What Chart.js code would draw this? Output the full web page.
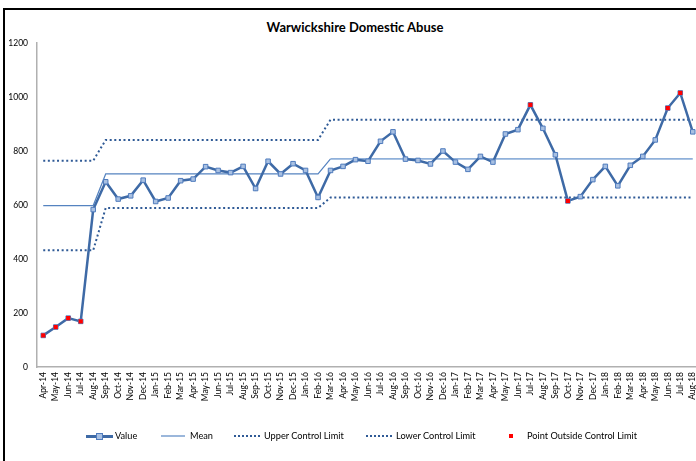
<!DOCTYPE html>
<html>
<head>
<meta charset="utf-8">
<script src="https://cdn.jsdelivr.net/npm/chart.js@4"></script>
<style>
  html, body { margin: 0; padding: 0; background: #fff; overflow: hidden; }
  body { width: 696px; height: 461px; position: relative; font-family: Lato, "Open Sans", sans-serif; }
  #frameTop { position: absolute; left: 3px; top: 8px; width: 693px; height: 2px; background: #000; }
  #frameLeft { position: absolute; left: 3px; top: 8px; width: 2px; height: 453px; background: #000; }
  #title { position: absolute; left: 255px; width: 200px; top: 19px; text-align: center; font-weight: bold; font-size: 13px; color: #000; }
  #wrap { position: absolute; left: 0; top: 0; width: 704px; height: 461px; }
  #legend { position: absolute; top: 430px; left: 0; width: 696px; height: 14px; font-size: 9.2px; color: #000; white-space: nowrap; }
  #legend span { position: absolute; top: 0; line-height: 12px; }
  #legend i { position: absolute; display: block; }
</style>
</head>
<body>
<div id="frameTop"></div>
<div id="frameLeft"></div>
<div id="title">Warwickshire Domestic Abuse</div>
<div id="wrap"><canvas id="chart"></canvas></div>
<div id="legend">
  <i style="left:86px;top:5px;width:27px;height:3px;background:#3e6aa6"></i>
  <i style="left:96px;top:3px;width:5px;height:5px;background:#a8c0e2;border:1px solid #4f7bbd"></i>
  <span style="left:115px">Value</span>
  <i style="left:161px;top:5px;width:24px;height:2px;background:#9bb7db"></i>
  <span style="left:190px">Mean</span>
  <i style="left:234px;top:5px;width:26px;border-top:2px dotted #2f5a96"></i>
  <span style="left:264px">Upper Control Limit</span>
  <i style="left:366px;top:5px;width:26px;border-top:2px dotted #2f5a96"></i>
  <span style="left:396px">Lower Control Limit</span>
  <i style="left:509px;top:4px;width:4px;height:4px;background:#ff0000"></i>
  <span style="left:527px">Point Outside Control Limit</span>
</div>
<script>
// --- Data ---
const months = [
  'Apr-14','May-14','Jun-14','Jul-14','Aug-14','Sep-14','Oct-14','Nov-14','Dec-14','Jan-15','Feb-15','Mar-15',
  'Apr-15','May-15','Jun-15','Jul-15','Aug-15','Sep-15','Oct-15','Nov-15','Dec-15','Jan-16','Feb-16','Mar-16',
  'Apr-16','May-16','Jun-16','Jul-16','Aug-16','Sep-16','Oct-16','Nov-16','Dec-16','Jan-17','Feb-17','Mar-17',
  'Apr-17','May-17','Jun-17','Jul-17','Aug-17','Sep-17','Oct-17','Nov-17','Dec-17','Jan-18','Feb-18','Mar-18',
  'Apr-18','May-18','Jun-18','Jul-18','Aug-18'
];

const values = [
  117, 148, 181, 169, 583, 686, 622, 634, 692, 613, 626, 690,
  696, 742, 728, 720, 743, 661, 762, 715, 753, 728, 628, 728,
  743, 768, 762, 836, 871, 770, 765, 752, 800, 759, 732, 780,
  759, 863, 879, 971, 884, 786, 615, 631, 694, 743, 671, 747,
  780, 841, 959, 1015, 871
];

// control limits per period (Apr-14..Aug-14, Sep-14..Feb-16, Mar-16..Aug-18)
const periodLengths = [5, 18, 30];
const periodMean = [598, 715, 771];
const periodUpper = [764, 841, 916];
const periodLower = [432, 589, 628];

// points flagged outside the control limits
const outsideMonths = ['Apr-14', 'May-14', 'Jun-14', 'Jul-14', 'Jul-17', 'Oct-17', 'Jun-18', 'Jul-18'];

const yTicks = [0, 200, 400, 600, 800, 1000, 1200];

// --- Build series ---
function expand(levels) {
  const out = [];
  levels.forEach((v, i) => {
    for (let k = 0; k < periodLengths[i]; k++) out.push(v);
  });
  return out;
}
const meanLine = expand(periodMean);
const upperLine = expand(periodUpper);
const lowerLine = expand(periodLower);
const outsidePoints = months.map((m, i) => outsideMonths.includes(m) ? values[i] : null);
const lastPeriodStart = periodLengths[0] + periodLengths[1];

const fontFamily = 'Lato, "Open Sans", sans-serif';

new Chart(document.getElementById('chart'), {
  type: 'line',
  data: {
    labels: months,
    datasets: [
      {
        label: 'Point Outside Control Limit',
        data: outsidePoints,
        showLine: false,
        pointStyle: 'rect',
        pointRadius: 3,
        backgroundColor: '#ff0000',
        borderColor: '#ff0000',
        borderWidth: 0,
        order: 0
      },
      {
        label: 'Value',
        data: values,
        borderColor: '#3e6aa6',
        borderWidth: 2.5,
        pointStyle: 'rect',
        pointRadius: 3.2,
        pointBackgroundColor: '#a8c0e2',
        pointBorderColor: '#4f7bbd',
        pointBorderWidth: 1,
        tension: 0,
        order: 1
      },
      {
        label: 'Mean',
        data: meanLine,
        borderColor: '#5583c0',
        borderWidth: 1.2,
        pointRadius: 0,
        segment: {
          borderColor: ctx => ctx.p0DataIndex >= lastPeriodStart ? '#8fb0da' : '#5583c0',
          borderWidth: ctx => ctx.p0DataIndex >= lastPeriodStart ? 1.8 : 1.2
        },
        order: 2
      },
      {
        label: 'Upper Control Limit',
        data: upperLine,
        borderColor: '#2f5a96',
        borderWidth: 2,
        borderDash: [2, 2.6],
        pointRadius: 0,
        order: 3
      },
      {
        label: 'Lower Control Limit',
        data: lowerLine,
        borderColor: '#2f5a96',
        borderWidth: 2,
        borderDash: [2, 2.6],
        pointRadius: 0,
        order: 3
      }
    ]
  },
  options: {
    responsive: true,
    maintainAspectRatio: false,
    animation: false,
    layout: { padding: { left: 0, right: 0, top: 43, bottom: 0 } },
    plugins: {
      legend: { display: false },
      title: { display: false },
      tooltip: { enabled: false }
    },
    scales: {
      x: {
        offset: true,
        grid: { display: false, drawTicks: false },
        border: { color: '#b0b0b0', width: 1.5 },
        ticks: {
          color: '#000',
          font: { family: fontFamily, size: 8.5 },
          minRotation: 90,
          maxRotation: 90,
          autoSkip: false,
          padding: 5
        },
        afterFit: scale => {
          scale.height = 94;
          scale.paddingLeft = 0;
          scale.paddingRight = 0;
        }
      },
      y: {
        min: 0,
        max: 1200,
        afterBuildTicks: scale => { scale.ticks = yTicks.map(v => ({ value: v })); },
        grid: { display: false, drawTicks: true, tickLength: 4, tickColor: '#b0b0b0' },
        border: { color: '#b0b0b0', width: 1.5 },
        ticks: {
          color: '#000',
          font: { family: fontFamily, size: 8.5 },
          padding: 5,
          callback: v => String(v)
        },
        afterFit: scale => { scale.width = 37; }
      }
    }
  }
});
</script>
</body>
</html>
